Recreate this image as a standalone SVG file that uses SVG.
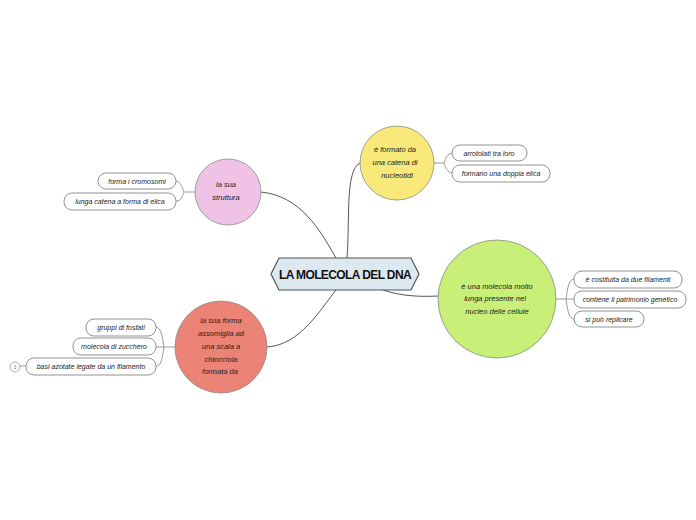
<svg xmlns="http://www.w3.org/2000/svg" width="696" height="520" viewBox="0 0 696 520">
<style>
.bg{fill:#ffffff}
.conn{fill:none;stroke:#555555;stroke-width:1}
.sub{fill:none;stroke:#9a9a9a;stroke-width:1}
.pill{fill:#ffffff;stroke:#777777;stroke-width:0.8}
.circ{stroke:#8a8a8a;stroke-width:0.8}
.t{font-family:"Liberation Sans",Arial,sans-serif;font-style:italic;font-size:7px;fill:#222222;text-anchor:middle}
.tc{font-family:"Liberation Sans",Arial,sans-serif;font-style:italic;font-size:7.5px;fill:#222222;text-anchor:middle}
.main{font-family:"Liberation Sans Narrow","Liberation Sans",Arial,sans-serif;font-weight:bold;font-size:12px;fill:#111111;text-anchor:middle;letter-spacing:-0.6px}
</style>
<rect class="bg" width="696" height="520"/>
<g id="connectors">
<path class="conn" d="M336,258 C320,230 300,195 260,192"/>
<path class="conn" d="M347,258 C350,220 345,170 360,163"/>
<path class="conn" d="M336,290 C320,310 300,345 267,347"/>
<path class="conn" d="M383,290 C400,296 420,297 438,296"/>
<path class="sub" d="M434,163 H444 M444,163 C446,158 447,154 452,153 M444,163 C446,168 447,172 452,173"/>
<path class="sub" d="M195,192 H184 M184,192 C182,187 181,182 176,181 M184,192 C182,197 181,201 176,201"/>
<path class="sub" d="M175,347 H164 M164,347 C162,335 161,328 156,327 M164,347 H156 M164,347 C162,360 161,366 156,366"/>
<path class="sub" d="M26,366 H20"/>
<path class="sub" d="M556,299 H566 M566,299 C568,285 569,280 574,279 M566,299 H574 M566,299 C568,313 569,318 574,319"/>
</g>
<g id="central">
<polygon points="279,258 411,258 419,274 411,290 279,290 271,274" fill="#dde9f0" stroke="#555555" stroke-width="1.2"/>
<text class="main" x="345" y="279">LA MOLECOLA DEL DNA</text>
</g>
<g id="node-formato">
<circle class="circ" cx="397" cy="163" r="37" fill="#f9e97a"/>
<text class="tc" x="395" y="152">è formato da</text>
<text class="tc" x="395" y="165">una catena di</text>
<text class="tc" x="397" y="178">nucleotidi</text>
</g>
<g id="node-arrotolati">
<rect class="pill" x="452" y="145" width="75" height="16" rx="8"/>
<text class="t" x="489" y="155.5">arrotolati tra loro</text>
</g>
<g id="node-doppia">
<rect class="pill" x="452" y="165" width="98" height="17" rx="8"/>
<text class="t" x="501" y="176">formano una doppia elica</text>
</g>
<g id="node-struttura">
<circle class="circ" cx="228" cy="192" r="33" fill="#f0c2e6"/>
<text class="tc" x="226" y="187">la sua</text>
<text class="tc" x="226" y="200">struttura</text>
</g>
<g id="node-cromosomi">
<rect class="pill" x="98" y="173" width="78" height="16" rx="8"/>
<text class="t" x="137" y="183.5">forma i cromosomi</text>
</g>
<g id="node-lunga">
<rect class="pill" x="64" y="193" width="112" height="17" rx="8"/>
<text class="t" x="120" y="204">lunga catena a forma di elica</text>
</g>
<g id="node-forma">
<circle class="circ" cx="221" cy="347" r="46" fill="#ec8377"/>
<text class="tc" x="221" y="323">la sua forma</text>
<text class="tc" x="221" y="336">assomiglia ad</text>
<text class="tc" x="221" y="349">una scala a</text>
<text class="tc" x="221" y="362">chiocciola</text>
<text class="tc" x="220" y="374">formata da</text>
</g>
<g id="node-fosfati">
<rect class="pill" x="86" y="319" width="70" height="17" rx="8"/>
<text class="t" x="121" y="330">gruppi di fosfati</text>
</g>
<g id="node-zucchero">
<rect class="pill" x="73" y="338" width="83" height="17" rx="8"/>
<text class="t" x="114" y="349">molecola di zucchero</text>
</g>
<g id="node-basi">
<rect class="pill" x="26" y="358" width="130" height="17" rx="8"/>
<text class="t" x="91" y="369">basi azotate legate da un filamento</text>
<circle cx="15" cy="367" r="5" fill="#ffffff" stroke="#9a9a9a" stroke-width="0.8"/>
<text x="15" y="369" font-family="Liberation Sans,Arial,sans-serif" font-size="5px" fill="#777777" text-anchor="middle">3</text>
</g>
<g id="node-molecola">
<circle class="circ" cx="497" cy="299" r="59" fill="#c8ef78"/>
<text class="tc" x="497" y="289">è una molecola molto</text>
<text class="tc" x="495" y="301">lunga presente nel</text>
<text class="tc" x="497" y="314">nucleo delle cellule</text>
</g>
<g id="node-filamenti">
<rect class="pill" x="574" y="271" width="108" height="17" rx="8"/>
<text class="t" x="628" y="282">è costituita da due filamenti</text>
</g>
<g id="node-patrimonio">
<rect class="pill" x="574" y="291" width="112" height="17" rx="8"/>
<text class="t" x="630" y="302">contiene il patrimonio genetico</text>
</g>
<g id="node-replicare">
<rect class="pill" x="574" y="311" width="70" height="16" rx="8"/>
<text class="t" x="609" y="321.5">si può replicare</text>
</g>
</svg>
